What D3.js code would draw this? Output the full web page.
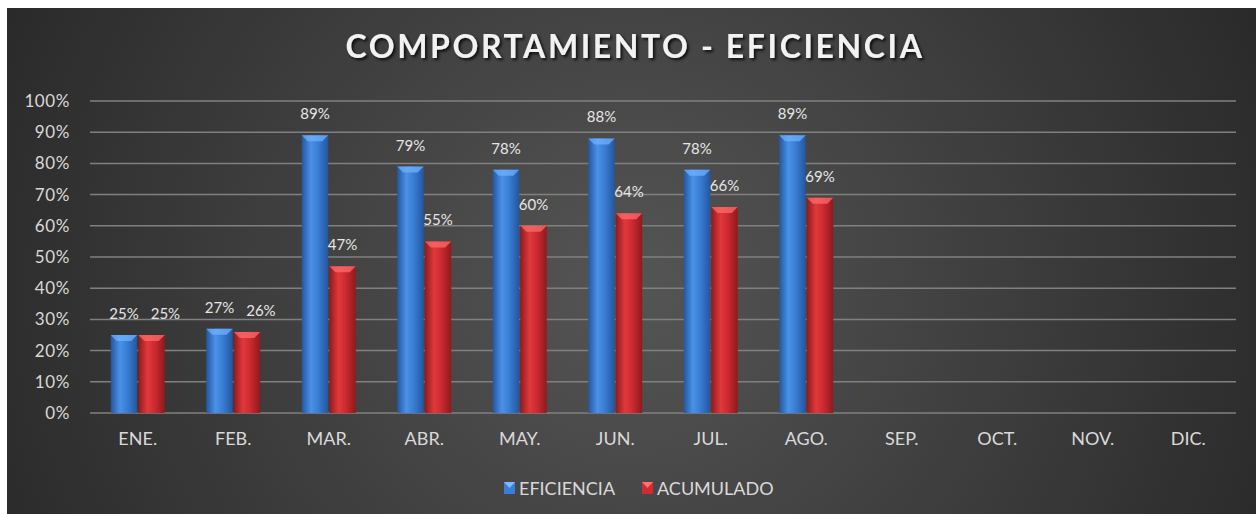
<!DOCTYPE html>
<html lang="es">
  <head>
    <meta charset="UTF-8" />
    <script src="https://d3js.org/d3.v7.min.js"></script>
    <title>Comportamiento - Eficiencia</title>
    <style>
      body { margin: 0; background: #fff; }
    </style>
  </head>
  <body>
    <svg id="chart" width="1256" height="514"></svg>
  </body>
  <script>
    // data
    var months = ["ENE.", "FEB.", "MAR.", "ABR.", "MAY.", "JUN.", "JUL.", "AGO.", "SEP.", "OCT.", "NOV.", "DIC."];
    var eficiencia = [0.25, 0.27, 0.89, 0.79, 0.78, 0.88, 0.78, 0.89];
    var acumulado = [0.25, 0.26, 0.47, 0.55, 0.60, 0.64, 0.66, 0.69];
    var seriesNames = ["EFICIENCIA", "ACUMULADO"];
    var yTicks = [0, 0.1, 0.2, 0.3, 0.4, 0.5, 0.6, 0.7, 0.8, 0.9, 1];

    var svg = d3.select("#chart"),
      width = +svg.attr("width"),
      height = +svg.attr("height");

    var font = "Lato, 'Open Sans', sans-serif";
    var defs = svg.append("defs");

    // background gradient (lighter in the middle)
    var bg = defs.append("radialGradient").attr("id", "bg")
      .attr("cx", "50%").attr("cy", "55%").attr("r", "60%")
      .attr("gradientTransform", "translate(0.5,0.55) scale(1,2.4) translate(-0.5,-0.55)");
    bg.append("stop").attr("offset", "0%").attr("stop-color", "#555555");
    bg.append("stop").attr("offset", "100%").attr("stop-color", "#262626");

    // cylinder gradients for bars
    function cyl(id, dark, mid, light) {
      var g = defs.append("linearGradient").attr("id", id)
        .attr("x1", "0%").attr("x2", "100%").attr("y1", "0%").attr("y2", "0%");
      g.append("stop").attr("offset", "0%").attr("stop-color", dark);
      g.append("stop").attr("offset", "35%").attr("stop-color", light);
      g.append("stop").attr("offset", "60%").attr("stop-color", mid);
      g.append("stop").attr("offset", "100%").attr("stop-color", dark);
    }
    cyl("gBlue", "#2456a0", "#3a7fd6", "#4a92e6");
    cyl("gRed", "#8e1a1d", "#cf2b30", "#e0393c");

    var shadow = defs.append("filter").attr("id", "tshadow")
      .attr("x", "-10%").attr("y", "-20%").attr("width", "120%").attr("height", "150%");
    shadow.append("feDropShadow").attr("dx", 2).attr("dy", 2)
      .attr("stdDeviation", 1.5).attr("flood-color", "#000").attr("flood-opacity", 0.8);

    svg.append("rect").attr("x", 7).attr("y", 8)
      .attr("width", width - 7).attr("height", height - 8)
      .attr("fill", "url(#bg)");

    // title
    svg.append("text")
      .attr("x", 635).attr("y", 58)
      .attr("text-anchor", "middle")
      .attr("font-family", font).attr("font-weight", "bold")
      .attr("font-size", 32).attr("fill", "#f2f2f2")
      .attr("letter-spacing", 2.6)
      .attr("filter", "url(#tshadow)")
      .text("COMPORTAMIENTO - EFICIENCIA");

    // scales
    var x = d3.scaleBand().domain(months).range([90, 1236]);
    var y = d3.scaleLinear().domain([0, 1]).range([413, 101]);
    var xs = d3.scaleBand().domain(seriesNames).range([0, 54]).paddingInner(0.04);
    var fmt = d3.format(".0%");

    // gridlines
    svg.append("g").selectAll("line").data(yTicks).enter().append("line")
      .attr("x1", 90).attr("x2", 1236)
      .attr("y1", d => y(d)).attr("y2", d => y(d))
      .attr("stroke", "#808080").attr("stroke-width", 1.5);

    // y axis labels
    var yAxis = svg.append("g")
      .attr("transform", "translate(90,0)")
      .call(d3.axisLeft(y).tickValues(yTicks).tickFormat(fmt).tickSize(0).tickPadding(20));
    yAxis.select(".domain").remove();
    yAxis.selectAll("text")
      .attr("font-family", font).attr("font-size", 17).attr("letter-spacing", 0.6)
      .attr("fill", "#d9d9d9");

    // x axis labels
    var xAxis = svg.append("g")
      .attr("transform", "translate(0,413)")
      .call(d3.axisBottom(x).tickSize(0).tickPadding(19));
    xAxis.select(".domain").remove();
    xAxis.selectAll("text")
      .attr("font-family", font).attr("font-size", 18).attr("fill", "#d9d9d9");

    // bars
    var rows = [];
    eficiencia.forEach(function (v, i) { rows.push({ m: months[i], s: "EFICIENCIA", v: v }); });
    acumulado.forEach(function (v, i) { rows.push({ m: months[i], s: "ACUMULADO", v: v }); });

    function bx(d) { return x(d.m) + (x.bandwidth() - 54) / 2 + xs(d.s); }
    var bw = xs.bandwidth();

    var bars = svg.append("g").selectAll("g").data(rows).enter().append("g");
    bars.append("rect")
      .attr("x", bx).attr("y", d => y(d.v))
      .attr("width", bw).attr("height", d => y(0) - y(d.v))
      .attr("fill", d => d.s === "EFICIENCIA" ? "url(#gBlue)" : "url(#gRed)");
    // top bevel
    bars.append("path")
      .attr("d", function (d) {
        var x0 = bx(d), t = y(d.v);
        return "M" + x0 + "," + t + "H" + (x0 + bw) + "L" + (x0 + bw - 6) + "," + (t + 6) + "H" + (x0 + 6) + "Z";
      })
      .attr("fill", d => d.s === "EFICIENCIA" ? "#6fb2ff" : "#ff6b6b")
      .attr("opacity", 0.75);

    // value labels
    var labels = bars.append("text")
      .attr("class", "vlabel")
      .attr("x", d => bx(d) + bw / 2)
      .attr("y", d => y(d.v) - 16)
      .attr("text-anchor", "middle")
      .attr("font-family", font).attr("font-size", 15).attr("fill", "#e6e6e6")
      .text(d => fmt(d.v));

    // push the second label right when the pair overlaps (like ENE. and FEB.)
    months.forEach(function (m) {
      var pair = labels.filter(d => d.m === m).nodes();
      if (pair.length < 2) return;
      var a = pair[0].getBBox(), b = pair[1].getBBox();
      var vOverlap = !(a.y + a.height < b.y || b.y + b.height < a.y);
      var gap = b.x - (a.x + a.width);
      if (vOverlap && gap < 10) {
        d3.select(pair[1]).attr("x", +d3.select(pair[1]).attr("x") + (12 - gap));
      }
    });

    // legend
    var legend = svg.append("g").selectAll("g")
      .data([{ name: "EFICIENCIA", x: 504, c: "#3a7fd6", t: "#7dbaff" }, { name: "ACUMULADO", x: 642, c: "#cf2b30", t: "#ff7070" }])
      .enter().append("g");
    legend.append("rect")
      .attr("x", d => d.x).attr("y", 482).attr("width", 11).attr("height", 12)
      .attr("fill", d => d.c);
    legend.append("path")
      .attr("d", d => "M" + d.x + ",482H" + (d.x + 11) + "L" + (d.x + 5.5) + ",488Z")
      .attr("fill", d => d.t);
    legend.append("text")
      .attr("x", d => d.x + 15).attr("y", 495)
      .attr("font-family", font).attr("font-size", 18).attr("fill", "#d9d9d9")
      .text(d => d.name);
  </script>
</html>
